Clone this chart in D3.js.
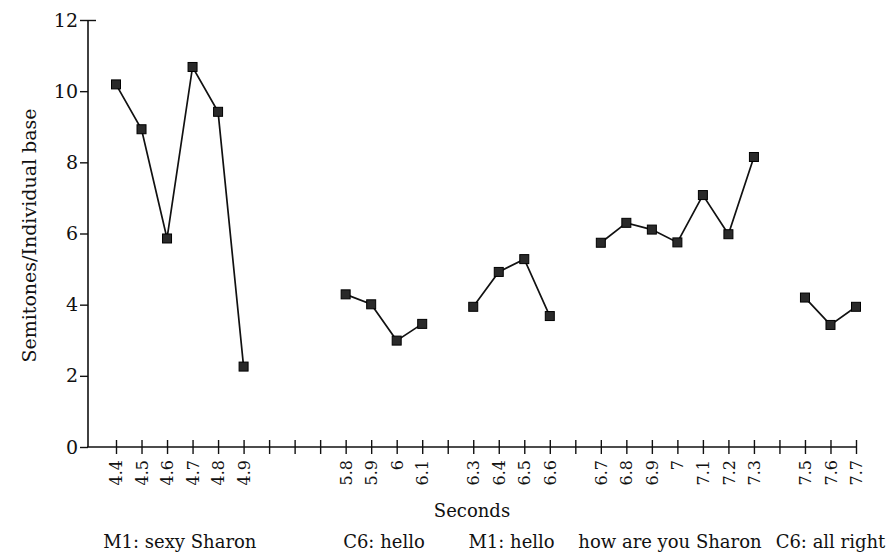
<!DOCTYPE html>
<html>
<head>
<meta charset="utf-8">
<script src="https://cdn.jsdelivr.net/npm/d3@7"></script>
<style>
  html, body { margin: 0; padding: 0; background: #fff; }
  svg { display: block; font-family: "DejaVu Serif", "Liberation Serif", serif; }
</style>
</head>
<body>
<svg id="chart" width="891" height="553"></svg>
<script>
// ---- data ----
const tickLabels = ["4.4","4.5","4.6","4.7","4.8","4.9","","","","5.8","5.9","6","6.1","","6.3","6.4","6.5","6.6","","6.7","6.8","6.9","7","7.1","7.2","7.3","","7.5","7.6","7.7"];
const utterances = ["M1: sexy Sharon", "C6: hello", "M1: hello", "how are you Sharon", "C6: all right"];
const seg1Seconds = ["4.4","4.5","4.6","4.7","4.8","4.9"];
const seg1Values  = [10.19, 8.93, 5.86, 10.68, 9.42, 2.26];
const seg2Seconds = ["5.8","5.9","6","6.1"];
const seg2Values  = [4.29, 4.01, 2.99, 3.46];
const seg3Seconds = ["6.3","6.4","6.5","6.6"];
const seg3Values  = [3.94, 4.92, 5.28, 3.68];
const seg4Seconds = ["6.7","6.8","6.9","7","7.1","7.2","7.3"];
const seg4Values  = [5.74, 6.30, 6.11, 5.75, 7.08, 5.98, 8.15];
const seg5Seconds = ["7.5","7.6","7.7"];
const seg5Values  = [4.20, 3.43, 3.94];
const yTicks = [0, 2, 4, 6, 8, 10, 12];
const yLabel = "Semitones/Individual base";
const xLabel = "Seconds";

const segSeconds = [seg1Seconds, seg2Seconds, seg3Seconds, seg4Seconds, seg5Seconds];
const segValues = [seg1Values, seg2Values, seg3Values, seg4Values, seg5Values];

// ---- layout ----
const W = 891, H = 553;
const axisX = 88, axisY = 447, topY = 20;
const firstX = 116, lastX = 856;

const svg = d3.select("#chart");
const ink = "#111";

const slots = d3.range(tickLabels.length);
const x = d3.scalePoint().domain(slots).range([firstX, lastX]);
const y = d3.scaleLinear().domain([0, 12]).range([axisY, topY]);
const slotOf = s => tickLabels.indexOf(s);

// y axis
const yAxis = svg.append("g").attr("transform", `translate(${axisX},0)`)
  .call(d3.axisLeft(y).tickValues(yTicks).tickSize(8).tickPadding(2).tickFormat(d3.format("d")));
yAxis.select(".domain").remove();
yAxis.selectAll(".tick line").attr("stroke", ink).attr("stroke-width", 1.4)
  .attr("x2", d => d === 12 ? 8 : -8).attr("x1", d => d === 12 ? -8 : 0);
yAxis.selectAll(".tick text").attr("fill", ink).attr("font-size", 19)
  .attr("font-family", "DejaVu Serif, serif");
svg.append("line").attr("x1", axisX).attr("x2", axisX).attr("y1", y(12)).attr("y2", axisY)
  .attr("stroke", ink).attr("stroke-width", 1.6);

// x axis
const xAxis = svg.append("g").attr("transform", `translate(0,${axisY})`)
  .call(d3.axisBottom(x).tickSize(7).tickPadding(13).tickFormat(i => tickLabels[i]));
xAxis.select(".domain").remove();
xAxis.selectAll(".tick line").attr("stroke", ink).attr("stroke-width", 1.4).attr("y1", -7).attr("y2", 7);
xAxis.selectAll(".tick text")
  .attr("fill", ink).attr("font-size", 16).attr("font-family", "DejaVu Serif, serif")
  .attr("transform", "rotate(-90)")
  .attr("text-anchor", "end")
  .attr("dy", "0.35em")
  .attr("x", -13).attr("y", 0);
svg.append("line").attr("x1", axisX - 1).attr("x2", lastX).attr("y1", axisY).attr("y2", axisY)
  .attr("stroke", ink).attr("stroke-width", 1.6);

// lines and markers
const line = d3.line().x(d => x(slotOf(d.s))).y(d => y(d.v));
segSeconds.forEach((secs, k) => {
  const pts = secs.map((s, i) => ({ s, v: segValues[k][i] }));
  svg.append("path").datum(pts).attr("d", line)
    .attr("fill", "none").attr("stroke", ink).attr("stroke-width", 1.7);
  svg.selectAll(null).data(pts).enter().append("rect")
    .attr("x", d => x(slotOf(d.s)) - 4.5).attr("y", d => y(d.v) - 4.5)
    .attr("width", 9).attr("height", 9)
    .attr("fill", "#2a2a2a").attr("stroke", "#000").attr("stroke-width", 1);
});

// axis titles
svg.append("text").attr("transform", `translate(36,${(y(12) + axisY) / 2 + 2}) rotate(-90)`)
  .attr("text-anchor", "middle").attr("font-size", 19).attr("fill", ink).text(yLabel);
svg.append("text").attr("x", (axisX + lastX) / 2).attr("y", 517)
  .attr("text-anchor", "middle").attr("font-size", 18).attr("fill", ink).text(xLabel);

// utterance captions, centered under their segments, then de-overlapped
const caps = svg.selectAll(".cap").data(utterances).enter().append("text")
  .attr("class", "cap").attr("y", 548).attr("font-size", 18).attr("fill", ink)
  .text(d => d);
const boxes = [];
caps.each(function (d, k) {
  const secs = segSeconds[k];
  const c = (x(slotOf(secs[0])) + x(slotOf(secs[secs.length - 1]))) / 2;
  const w = this.getComputedTextLength();
  boxes.push({ node: this, left: c - w / 2, w });
});
const gap = 14;
let limit = W - 3;
for (let k = boxes.length - 1; k >= 0; k--) {
  const b = boxes[k];
  if (b.left + b.w > limit) b.left = limit - b.w;
  limit = b.left - gap;
}
boxes.forEach(b => d3.select(b.node).attr("x", b.left));
</script>
</body>
</html>
